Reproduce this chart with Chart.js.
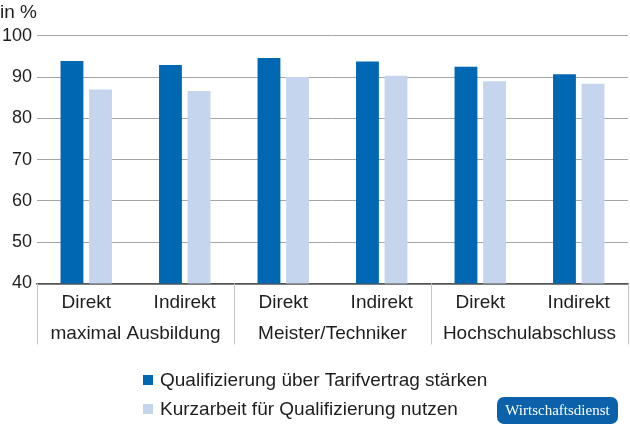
<!DOCTYPE html>
<html>
<head>
<meta charset="utf-8">
<script src="https://cdn.jsdelivr.net/npm/chart.js@4.4.1/dist/chart.umd.min.js"></script>
<style>
  html, body { margin: 0; padding: 0; background: #fff; }
  #wrap { width: 630px; height: 429px; }
</style>
</head>
<body>
<div id="wrap"><canvas id="chart"></canvas></div>
<script>
// values
const categories = ['Direkt', 'Indirekt', 'Direkt', 'Indirekt', 'Direkt', 'Indirekt'];
const groups = ['maximal Ausbildung', 'Meister/Techniker', 'Hochschulabschluss'];
const tarifvertrag = [93.9, 92.9, 94.6, 93.8, 92.5, 90.7];
const kurzarbeit = [87.0, 86.6, 90.0, 90.3, 89.0, 88.4];
const seriesNames = ['Qualifizierung über Tarifvertrag stärken', 'Kurzarbeit für Qualifizierung nutzen'];
const yTicks = [40, 50, 60, 70, 80, 90, 100];

const FONT = "'Liberation Sans', Arial, sans-serif";
const darkBlue = '#0067b3';
const lightBlue = '#c6d5ee';

// vertical lines between the groups, below the x axis
const separators = {
  id: 'separators',
  afterDraw(chart) {
    const g = chart.scales.x2;
    const ctx = chart.ctx;
    const top = chart.chartArea.bottom;
    ctx.save();
    ctx.strokeStyle = '#c4c4c4';
    ctx.lineWidth = 1;
    for (let i = 0; i <= groups.length; i++) {
      const px = Math.round(g.getPixelForValue(i - 0.5)) + 0.5;
      ctx.beginPath();
      ctx.moveTo(px, top);
      ctx.lineTo(px, top + 61);
      ctx.stroke();
    }
    ctx.restore();
  }
};

// legend in two left-aligned rows + the badge
const legendAndBadge = {
  id: 'legendAndBadge',
  afterDraw(chart) {
    const ctx = chart.ctx;
    ctx.save();
    ctx.font = '19px ' + FONT;
    ctx.textBaseline = 'middle';
    chart.data.datasets.forEach((ds, i) => {
      const y = 380 + i * 29;
      ctx.fillStyle = ds.backgroundColor;
      ctx.fillRect(143, y - 5, 10, 10);
      ctx.fillStyle = '#1e1e1e';
      ctx.fillText(ds.label, 160, y + 1);
    });

    // Wirtschaftsdienst badge
    const bx = 497, by = 397, bw = 121, bh = 27, r = 7;
    ctx.fillStyle = '#0b62ab';
    ctx.beginPath();
    ctx.moveTo(bx + r, by);
    ctx.arcTo(bx + bw, by, bx + bw, by + bh, r);
    ctx.arcTo(bx + bw, by + bh, bx, by + bh, r);
    ctx.arcTo(bx, by + bh, bx, by, r);
    ctx.arcTo(bx, by, bx + bw, by, r);
    ctx.closePath();
    ctx.fill();
    ctx.fillStyle = '#ffffff';
    ctx.font = "15px 'Liberation Serif', 'DejaVu Serif', serif";
    ctx.textAlign = 'center';
    ctx.fillText('Wirtschaftsdienst', bx + bw / 2, by + bh / 2 + 1);
    ctx.restore();
  }
};

new Chart(document.getElementById('chart'), {
  type: 'bar',
  data: {
    labels: categories,
    datasets: [
      {
        label: seriesNames[0],
        data: tarifvertrag,
        backgroundColor: darkBlue,
        categoryPercentage: 0.58,
        barPercentage: 0.8
      },
      {
        label: seriesNames[1],
        data: kurzarbeit,
        backgroundColor: lightBlue,
        categoryPercentage: 0.58,
        barPercentage: 0.8
      }
    ]
  },
  options: {
    responsive: true,
    maintainAspectRatio: false,
    animation: false,
    layout: { padding: { left: 0, right: 2, top: 0, bottom: 84 } },
    plugins: {
      legend: { display: false },
      tooltip: { enabled: false },
      title: {
        display: true,
        text: 'in %',
        align: 'start',
        color: '#1e1e1e',
        font: { family: FONT, size: 19, weight: 'normal' },
        padding: { top: 1, bottom: 12 }
      }
    },
    scales: {
      y: {
        min: 40,
        max: 100,
        afterFit(scale) { scale.width = 37; },
        afterBuildTicks(scale) { scale.ticks = yTicks.map(v => ({ value: v })); },
        ticks: {
          color: '#1e1e1e',
          padding: 5,
          font: { family: FONT, size: 18 }
        },
        grid: {
          drawTicks: false,
          color: ctx => ctx.tick && ctx.tick.value === 40 ? '#555555' : '#a6a6a6',
          lineWidth: ctx => ctx.tick && ctx.tick.value === 40 ? 1.5 : 1
        },
        border: { display: false }
      },
      x: {
        offset: true,
        grid: { display: false, drawTicks: false },
        border: { display: true, color: '#555555', width: 1.5 },
        ticks: {
          color: '#1e1e1e',
          padding: 8,
          maxRotation: 0,
          autoSkip: false,
          font: { family: FONT, size: 19 }
        }
      },
      x2: {
        type: 'category',
        position: 'bottom',
        labels: groups,
        offset: true,
        grid: { display: false, drawTicks: false },
        border: { display: false },
        ticks: {
          color: '#1e1e1e',
          padding: 0,
          maxRotation: 0,
          autoSkip: false,
          font: { family: FONT, size: 19 }
        }
      }
    }
  },
  plugins: [separators, legendAndBadge]
});
</script>
</body>
</html>
